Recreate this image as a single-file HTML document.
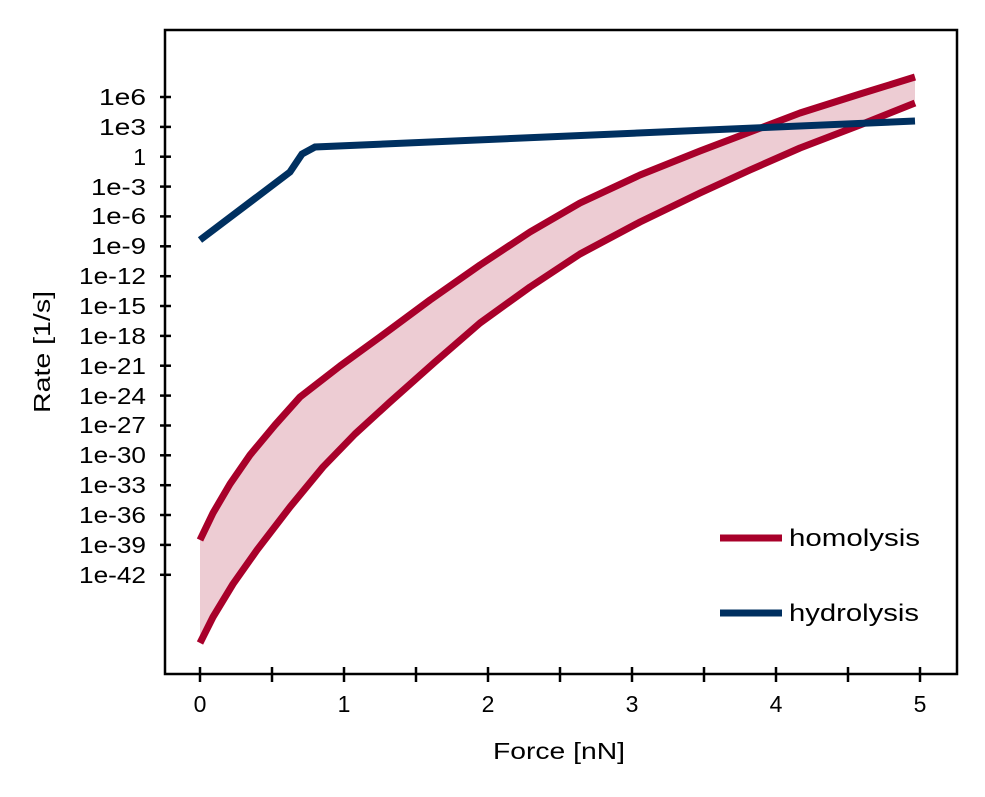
<!DOCTYPE html>
<html><head><meta charset="utf-8"><style>body{margin:0;background:#fff}svg{display:block}</style></head><body>
<svg width="985" height="797" xmlns="http://www.w3.org/2000/svg" font-family="Liberation Sans, sans-serif">
<rect width="985" height="797" fill="#fff"/>
<polygon fill="#edccd3" points="200,540 213,513 230,484 250,455 275,425 300,397 340,366 380,337 430,300 480,265 530,232 580,203 640,175 700,151 750,132 800,113 860,94 915,77 915,103 860,125 800,148 750,170 700,193 640,222 580,254 530,287 480,323 435,362 390,402 355,434 323,467 290,507 257,550 233,584 213,617 200,643"/>
<polyline fill="none" stroke="#a8002a" stroke-width="7" stroke-linejoin="round" points="200,540 213,513 230,484 250,455 275,425 300,397 340,366 380,337 430,300 480,265 530,232 580,203 640,175 700,151 750,132 800,113 860,94 915,77"/>
<polyline fill="none" stroke="#a8002a" stroke-width="7" stroke-linejoin="round" points="200,643 213,617 233,584 257,550 290,507 323,467 355,434 390,402 435,362 480,323 530,287 580,254 640,222 700,193 750,170 800,148 860,125 915,103"/>
<polyline fill="none" stroke="#003060" stroke-width="7" points="200,240 290,172 302,154 315,147 915,121"/>
<rect x="165" y="30" width="792" height="644" fill="none" stroke="#000" stroke-width="2.5"/>
<g stroke="#000" stroke-width="2.5">
<line x1="200" y1="667" x2="200" y2="682"/><line x1="272" y1="667" x2="272" y2="682"/><line x1="344" y1="667" x2="344" y2="682"/><line x1="416" y1="667" x2="416" y2="682"/><line x1="488" y1="667" x2="488" y2="682"/><line x1="560" y1="667" x2="560" y2="682"/><line x1="632" y1="667" x2="632" y2="682"/><line x1="704" y1="667" x2="704" y2="682"/><line x1="776" y1="667" x2="776" y2="682"/><line x1="848" y1="667" x2="848" y2="682"/><line x1="920" y1="667" x2="920" y2="682"/>
<line x1="160" x2="171" y1="97" y2="97"/><line x1="160" x2="171" y1="126.9" y2="126.9"/><line x1="160" x2="171" y1="156.7" y2="156.7"/><line x1="160" x2="171" y1="186.6" y2="186.6"/><line x1="160" x2="171" y1="216.4" y2="216.4"/><line x1="160" x2="171" y1="246.3" y2="246.3"/><line x1="160" x2="171" y1="276.2" y2="276.2"/><line x1="160" x2="171" y1="306" y2="306"/><line x1="160" x2="171" y1="335.9" y2="335.9"/><line x1="160" x2="171" y1="365.7" y2="365.7"/><line x1="160" x2="171" y1="395.6" y2="395.6"/><line x1="160" x2="171" y1="425.5" y2="425.5"/><line x1="160" x2="171" y1="455.3" y2="455.3"/><line x1="160" x2="171" y1="485.2" y2="485.2"/><line x1="160" x2="171" y1="515" y2="515"/><line x1="160" x2="171" y1="544.9" y2="544.9"/><line x1="160" x2="171" y1="574.8" y2="574.8"/>
</g>
<g font-size="23" text-anchor="end" fill="#000" lengthAdjust="spacingAndGlyphs">
<text x="146" y="105" textLength="47" lengthAdjust="spacingAndGlyphs">1e6</text><text x="146" y="135" textLength="47" lengthAdjust="spacingAndGlyphs">1e3</text><text x="146" y="165">1</text><text x="146" y="195" textLength="55" lengthAdjust="spacingAndGlyphs">1e-3</text><text x="146" y="224" textLength="55" lengthAdjust="spacingAndGlyphs">1e-6</text><text x="146" y="254" textLength="55" lengthAdjust="spacingAndGlyphs">1e-9</text><text x="146" y="284" textLength="67" lengthAdjust="spacingAndGlyphs">1e-12</text><text x="146" y="314" textLength="67" lengthAdjust="spacingAndGlyphs">1e-15</text><text x="146" y="344" textLength="67" lengthAdjust="spacingAndGlyphs">1e-18</text><text x="146" y="374" textLength="67" lengthAdjust="spacingAndGlyphs">1e-21</text><text x="146" y="404" textLength="67" lengthAdjust="spacingAndGlyphs">1e-24</text><text x="146" y="433" textLength="67" lengthAdjust="spacingAndGlyphs">1e-27</text><text x="146" y="463" textLength="67" lengthAdjust="spacingAndGlyphs">1e-30</text><text x="146" y="493" textLength="67" lengthAdjust="spacingAndGlyphs">1e-33</text><text x="146" y="523" textLength="67" lengthAdjust="spacingAndGlyphs">1e-36</text><text x="146" y="553" textLength="67" lengthAdjust="spacingAndGlyphs">1e-39</text><text x="146" y="583" textLength="67" lengthAdjust="spacingAndGlyphs">1e-42</text>
</g>
<g font-size="23" text-anchor="middle" fill="#000">
<text x="200" y="712">0</text><text x="344" y="712">1</text><text x="488" y="712">2</text><text x="632" y="712">3</text><text x="776" y="712">4</text><text x="920" y="712">5</text>
<text x="559" y="759" textLength="132" lengthAdjust="spacingAndGlyphs">Force [nN]</text>
<text transform="translate(50,352) rotate(-90)" textLength="122" lengthAdjust="spacingAndGlyphs">Rate [1/s]</text>
</g>
<line x1="720" y1="538" x2="782" y2="538" stroke="#a8002a" stroke-width="7"/>
<line x1="720" y1="613" x2="782" y2="613" stroke="#003060" stroke-width="7"/>
<text x="789" y="546" font-size="24" textLength="131" lengthAdjust="spacingAndGlyphs">homolysis</text>
<text x="789" y="621" font-size="24" textLength="130" lengthAdjust="spacingAndGlyphs">hydrolysis</text>
</svg>
</body></html>
